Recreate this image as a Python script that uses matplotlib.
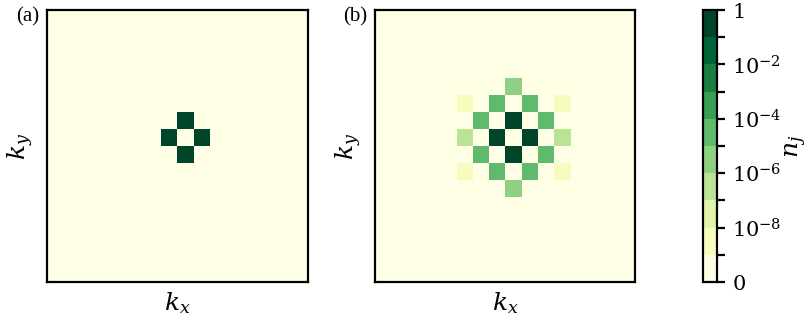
import numpy as np
import matplotlib
matplotlib.use("Agg")
import matplotlib.pyplot as plt
from matplotlib.colors import BoundaryNorm

plt.rcParams["font.family"] = "DejaVu Serif"
plt.rcParams["mathtext.fontset"] = "dejavuserif"

# Lattice size (k = -8 ... 7 along each axis)
N = 16
k_vals = np.arange(-N // 2, N // 2)

# Occupied momenta: (dkx, dky) offsets from the origin and their occupation n_j
offsets_a = [(0, 1), (0, -1), (1, 0), (-1, 0)]
values_a = [0.25, 0.25, 0.25, 0.25]

offsets_b = [(0, 1), (0, -1), (1, 0), (-1, 0),
             (1, 2), (-1, 2), (1, -2), (-1, -2),
             (2, 1), (-2, 1), (2, -1), (-2, -1),
             (0, 3), (0, -3), (3, 0), (-3, 0),
             (3, 2), (-3, 2), (3, -2), (-3, -2)]
values_b = [0.22, 0.22, 0.22, 0.22,
            3e-5, 3e-5, 3e-5, 3e-5,
            3e-5, 3e-5, 3e-5, 3e-5,
            3e-6, 3e-6, 3e-7, 3e-7,
            3e-9, 3e-9, 3e-9, 3e-9]

# Colour levels
bounds = [0, 1e-9, 1e-8, 1e-7, 1e-6, 1e-5, 1e-4, 1e-3, 1e-2, 1e-1, 1]
tick_labels = ["0", "", r"$10^{-8}$", "", r"$10^{-6}$", "", r"$10^{-4}$", "",
               r"$10^{-2}$", "", "1"]


def occupation_grid(offsets, values):
    grid = np.zeros((N, N))
    c = N // 2
    for (dx, dy), v in zip(offsets, values):
        grid[c + dy, c + dx] = v
    return grid


cmap = plt.get_cmap("YlGn")
norm = BoundaryNorm(bounds, cmap.N)

fig = plt.figure(figsize=(8.12, 3.25), dpi=100)
ax_a = fig.add_axes([0.0579, 0.1323, 0.3214, 0.8369])
ax_b = fig.add_axes([0.4618, 0.1323, 0.3202, 0.8369])
cax = fig.add_axes([0.8658, 0.1323, 0.0172, 0.8369])

ext = [k_vals[0] - 0.5, k_vals[-1] + 0.5, k_vals[0] - 0.5, k_vals[-1] + 0.5]
for ax, offs, vals, tag in [(ax_a, offsets_a, values_a, "(a)"),
                            (ax_b, offsets_b, values_b, "(b)")]:
    im = ax.imshow(occupation_grid(offs, vals), cmap=cmap, norm=norm,
                   origin="lower", extent=ext, aspect="auto",
                   interpolation="nearest")
    ax.set_xticks([])
    ax.set_yticks([])
    ax.set_xlabel(r"$k_x$", fontsize=18, labelpad=6)
    ax.set_ylabel(r"$k_y$", fontsize=18, labelpad=8)
    for s in ax.spines.values():
        s.set_linewidth(1.6)
    ax.text(-0.03, 1.01, tag, transform=ax.transAxes, ha="right", va="top",
            fontsize=15, family="Liberation Serif")

cb = fig.colorbar(im, cax=cax, boundaries=bounds, ticks=bounds,
                  spacing="uniform")
cb.ax.set_yticklabels(tick_labels)
cb.ax.tick_params(labelsize=15, width=1.6, length=6, direction="out", pad=5)
cb.outline.set_linewidth(1.6)
cb.set_label(r"$n_j$", fontsize=18, labelpad=1)

fig.savefig("out.png", dpi=100)
